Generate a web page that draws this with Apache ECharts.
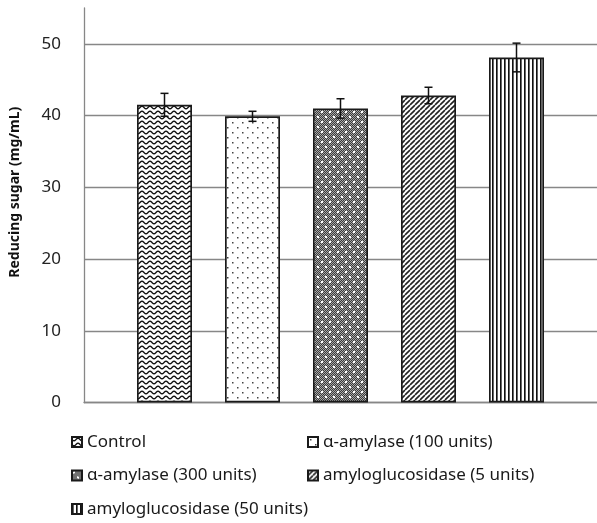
<!DOCTYPE html>
<html>
<head>
<meta charset="utf-8">
<script src="https://cdn.jsdelivr.net/npm/echarts@6/dist/echarts.min.js"></script>
<style>
  html, body { margin: 0; padding: 0; background: #fff; }
  #chart { width: 597px; height: 523px; }
</style>
</head>
<body>
<div id="chart"></div>
<script>
// Treatments (one bar each) with mean reducing sugar and standard deviation
const treatments = [
  'Control',
  'α-amylase (100 units)',
  'α-amylase (300 units)',
  'amyloglucosidase (5 units)',
  'amyloglucosidase (50 units)'
];
const means = [41.5, 39.9, 41.0, 42.8, 48.1];
const errors = [1.6, 0.7, 1.35, 1.15, 2.0];
const yTicks = [0, 10, 20, 30, 40, 50];
const legendCol1 = [treatments[0], treatments[2], treatments[4]];
const legendCol2 = [treatments[1], treatments[3]];

const BAR_W = 55;
const BAR_GAP = 0.6;
const FONT = '"Noto Sans", "DejaVu Sans", sans-serif';

// Small canvas tiles used as repeating fill patterns
function tile(w, h, draw, bg) {
  const c = document.createElement('canvas');
  c.width = w; c.height = h;
  const g = c.getContext('2d');
  g.fillStyle = bg || '#fff';
  g.fillRect(0, 0, w, h);
  draw(g);
  return { image: c, repeat: 'repeat' };
}

const patterns = [
  // wavy lines
  tile(8, 5, g => {
    g.strokeStyle = '#111';
    g.lineWidth = 1.4;
    g.beginPath();
    for (let x = -1; x <= 9; x += 0.25) {
      const y = 2.5 + 1.3 * Math.sin(2 * Math.PI * x / 8);
      if (x === -1) g.moveTo(x, y); else g.lineTo(x, y);
    }
    g.stroke();
  }),
  // sparse staggered dots
  tile(10, 10, g => {
    g.fillStyle = '#444';
    g.fillRect(2, 2, 1.5, 1.5);
    g.fillRect(7, 7, 1.5, 1.5);
  }),
  // dark checker with light spots
  tile(8, 10, g => {
    for (let y = 0; y < 10; y++) {
      for (let x = 0; x < 8; x++) {
        g.fillStyle = (x + y) % 2 ? '#3a3a3a' : '#a8a8a8';
        g.fillRect(x, y, 1, 1);
      }
    }
    g.fillStyle = '#fff';
    g.fillRect(1, 1, 2, 2);
    g.fillRect(5, 6, 2, 2);
  }),
  // upward diagonal lines
  tile(5, 5, g => {
    g.strokeStyle = '#222';
    g.lineWidth = 1.6;
    g.beginPath();
    for (const k of [-5, 0, 5]) {
      g.moveTo(k, 5);
      g.lineTo(k + 5, 0);
    }
    g.stroke();
  }),
  // vertical lines
  tile(4, 4, g => {
    g.fillStyle = '#111';
    g.fillRect(0, 0, 1, 4);
    g.fillStyle = '#666';
    g.fillRect(1, 0, 1, 4);
  })
];

const barSeries = treatments.map((name, i) => ({
  name: name,
  type: 'bar',
  barWidth: BAR_W,
  barGap: (BAR_GAP * 100) + '%',
  data: [means[i]],
  itemStyle: {
    color: patterns[i],
    borderColor: '#1a1a1a',
    borderWidth: 1.7
  },
  emphasis: { disabled: true }
}));

// Error bars: [category, low, high, bar index]
const errData = means.map((m, i) => [0, m - errors[i], m + errors[i], i]);

const errSeries = {
  type: 'custom',
  data: errData,
  encode: { x: 0, y: [1, 2] },
  z: 10,
  silent: true,
  renderItem: function (params, api) {
    const i = api.value(3);
    const n = treatments.length;
    const step = BAR_W * (1 + BAR_GAP);
    const base = api.coord([api.value(0), api.value(1)]);
    const top = api.coord([api.value(0), api.value(2)]);
    const x = base[0] + (i - (n - 1) / 2) * step;
    const cap = 4;
    const style = { stroke: '#111', lineWidth: 1.5 };
    return {
      type: 'group',
      children: [
        { type: 'line', shape: { x1: x, y1: base[1], x2: x, y2: top[1] }, style: style },
        { type: 'line', shape: { x1: x - cap, y1: base[1], x2: x + cap, y2: base[1] }, style: style },
        { type: 'line', shape: { x1: x - cap, y1: top[1], x2: x + cap, y2: top[1] }, style: style }
      ]
    };
  }
};

const gridLineColors = yTicks.map(() => '#878787').concat(['rgba(0,0,0,0)']);

const legendBase = {
  orient: 'vertical',
  icon: 'rect',
  itemWidth: 10,
  itemHeight: 10,
  itemGap: 13.5,
  padding: 0,
  selectedMode: false,
  textStyle: { fontFamily: FONT, fontSize: 17, lineHeight: 20, color: '#1a1a1a' }
};

const option = {
  animation: false,
  backgroundColor: '#fff',
  grid: { left: 83, right: -4, top: 8, bottom: 120.5 },
  legend: [
    Object.assign({}, legendBase, { data: legendCol1, left: 71, top: 432 }),
    Object.assign({}, legendBase, { data: legendCol2, left: 307, top: 432 })
  ],
  xAxis: {
    type: 'category',
    data: [''],
    axisLine: { show: true, lineStyle: { color: '#878787', width: 1.3 } },
    axisTick: { show: false },
    axisLabel: { show: false }
  },
  yAxis: {
    type: 'value',
    min: yTicks[0],
    max: 55,
    interval: 10,
    name: 'Reducing sugar (mg/mL)',
    nameLocation: 'middle',
    nameGap: 62,
    nameTextStyle: {
      fontFamily: FONT, fontSize: 14, fontWeight: 'bold', color: '#111',
      padding: [0, 0, 0, 26]
    },
    axisLine: { show: true, lineStyle: { color: '#878787', width: 1.3 } },
    axisTick: { show: false },
    axisLabel: {
      margin: 23,
      fontFamily: FONT, fontSize: 17, color: '#222',
      formatter: v => (yTicks.indexOf(v) >= 0 ? String(v) : '')
    },
    splitLine: { show: true, lineStyle: { color: gridLineColors, width: 1.3 } }
  },
  series: barSeries.concat([errSeries])
};

const chart = echarts.init(document.getElementById('chart'), null, { renderer: 'canvas' });
chart.setOption(option);
</script>
</body>
</html>
